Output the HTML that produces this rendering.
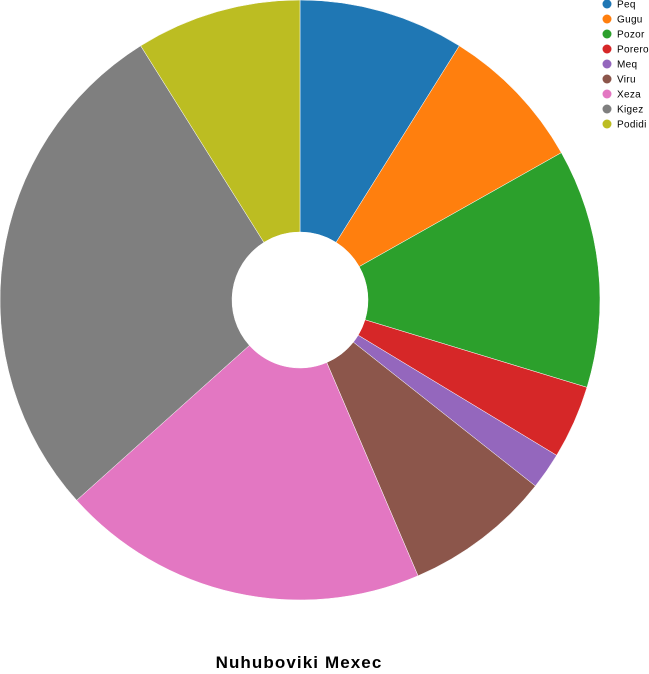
<!DOCTYPE html>
<html><head><meta charset="utf-8"><style>
body{margin:0;background:#fff;font-family:"Liberation Sans",Arial,sans-serif}
svg{display:block}
</style></head><body>
<svg id="chart" width="649" height="674">
<g id="slices"></g>
<g id="legend"></g>
<text x="299" y="668" text-anchor="middle" font-size="17" letter-spacing="1.1" font-weight="bold" fill="#000">Nuhuboviki Mexec</text>
</svg>
<script>
const categories=["Peq","Gugu","Pozor","Porero","Meq","Viru","Xeza","Kigez","Podidi"];
const values=[9,8,13,4,2,8,20,28,9];
const colors=["#1f77b4","#ff7f0e","#2ca02c","#d62728","#9467bd","#8c564b","#e377c2","#7f7f7f","#bcbd22"];
const NS="http://www.w3.org/2000/svg";
const cx=300,cy=300,R=300,r=68;
const total=values.reduce((a,b)=>a+b,0);
const sg=document.getElementById('slices');
function pt(a,rad){return [cx+rad*Math.sin(a),cy-rad*Math.cos(a)];}
let acc=0;
values.forEach((v,i)=>{
  const a0=acc/total*2*Math.PI;acc+=v;const a1=acc/total*2*Math.PI;
  const large=(a1-a0)>Math.PI?1:0;
  const p0=pt(a0,R),p1=pt(a1,R),q1=pt(a1,r),q0=pt(a0,r);
  const p=document.createElementNS(NS,'path');
  p.setAttribute('d',`M${p0[0]},${p0[1]}A${R},${R} 0 ${large} 1 ${p1[0]},${p1[1]}L${q1[0]},${q1[1]}A${r},${r} 0 ${large} 0 ${q0[0]},${q0[1]}Z`);
  p.setAttribute('fill',colors[i]);
  p.setAttribute('stroke','#fff');p.setAttribute('stroke-width','0.5');
  
  
  sg.appendChild(p);
});
const lg=document.getElementById('legend');
categories.forEach((c,i)=>{
  const y=4+i*15;
  const g=document.createElementNS(NS,'g');
  
  
  const ci=document.createElementNS(NS,'circle');
  ci.setAttribute('cx',607);ci.setAttribute('cy',y);ci.setAttribute('r',4.5);ci.setAttribute('fill',colors[i]);
  const t=document.createElementNS(NS,'text');
  t.setAttribute('x',617);t.setAttribute('y',y+3.5);t.setAttribute('font-size','10');t.setAttribute('fill','#000');
  t.setAttribute('letter-spacing','0.3');
  t.textContent=c;
  g.appendChild(ci);g.appendChild(t);lg.appendChild(g);
});
</script>
</body></html>
